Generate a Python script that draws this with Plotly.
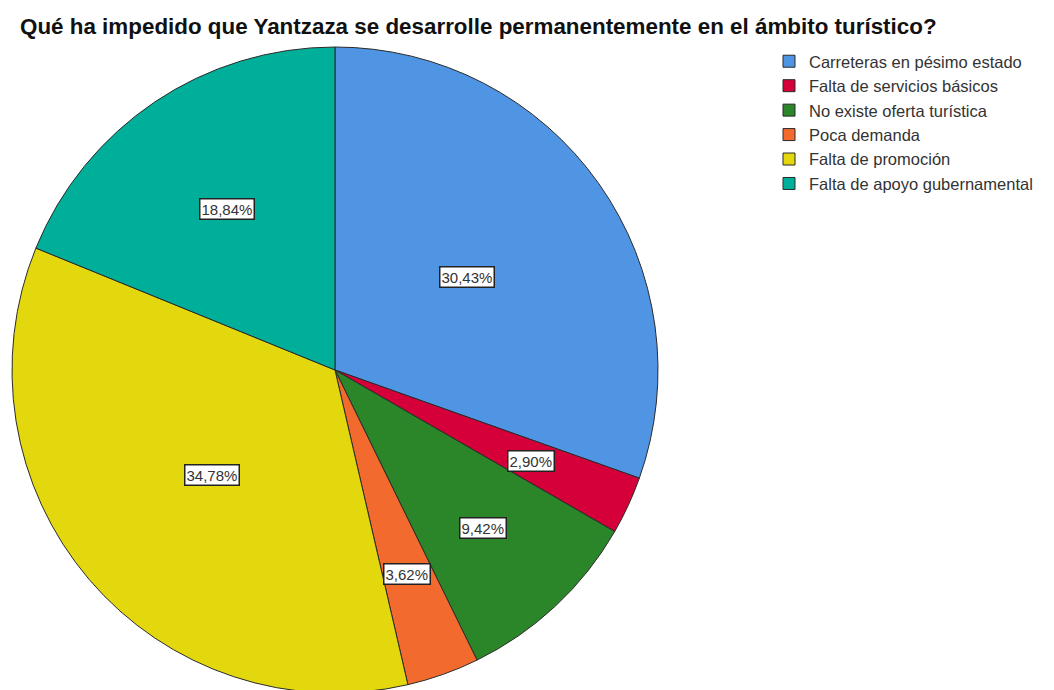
import numpy as np
import plotly.graph_objects as go

# data (n = 138 respondents)
labels = [
    "Carreteras en pésimo estado",
    "Falta de servicios básicos",
    "No existe oferta turística",
    "Poca demanda",
    "Falta de promoción",
    "Falta de apoyo gubernamental",
]
counts = [42, 4, 13, 5, 48, 26]
colors = ["#5094E4", "#D5003A", "#2A8629", "#F26A2E", "#E2D80D", "#00AF9A"]

TITLE = "Qué ha impedido que Yantzaza se desarrolle permanentemente en el ámbito turístico?"

W, H = 1054, 690
# pie geometry in px (page body adds an 8px offset)
cx, cy, r = 327, 362, 323

fig = go.Figure(go.Pie(
    labels=labels, values=counts, sort=False, direction="clockwise", rotation=0,
    marker=dict(colors=colors, line=dict(color="#2b2b2b", width=1)),
    textinfo="none", hoverinfo="label+percent",
    domain=dict(x=[(cx - r) / W, (cx + r) / W], y=[1 - (cy + r) / H, 1 - (cy - r) / H]),
))

# percentage labels in white boxes, placed along each slice's mid-angle
vals = np.array(counts, dtype=float)
pct = vals / vals.sum() * 100
mid = (np.cumsum(vals) - vals / 2) / vals.sum() * 2 * np.pi
for p, a in zip(pct, mid):
    f = 0.5 if p > 25 else (0.6 if p > 15 else 0.67)
    px_ = cx + f * r * np.sin(a)
    py_ = cy - f * r * np.cos(a)
    fig.add_annotation(
        x=px_ / W, y=1 - py_ / H, xref="paper", yref="paper",
        xanchor="center", yanchor="middle",
        text=f"{p:.2f}%".replace(".", ","), showarrow=False,
        font=dict(family="Liberation Sans, Arial", size=15, color="#333"),
        bgcolor="white", bordercolor="#222", borderwidth=1.5, borderpad=1,
    )

fig.update_layout(
    width=W, height=H, margin=dict(l=0, r=0, t=0, b=0),
    paper_bgcolor="white", plot_bgcolor="white",
    font=dict(family="Liberation Sans, Arial", color="#333"),
    title=dict(text=TITLE, x=12 / W, xanchor="left", y=1 - 18 / H, yanchor="middle",
               font=dict(size=22.4, color="#111", family="Liberation Sans, Arial", weight="bold")),
    legend=dict(x=761 / W, y=1 - 36 / H, xanchor="left", yanchor="top",
                font=dict(size=16.5, color="#333"), itemwidth=30, traceorder="normal"),
)

fig.write_html("out.html")
